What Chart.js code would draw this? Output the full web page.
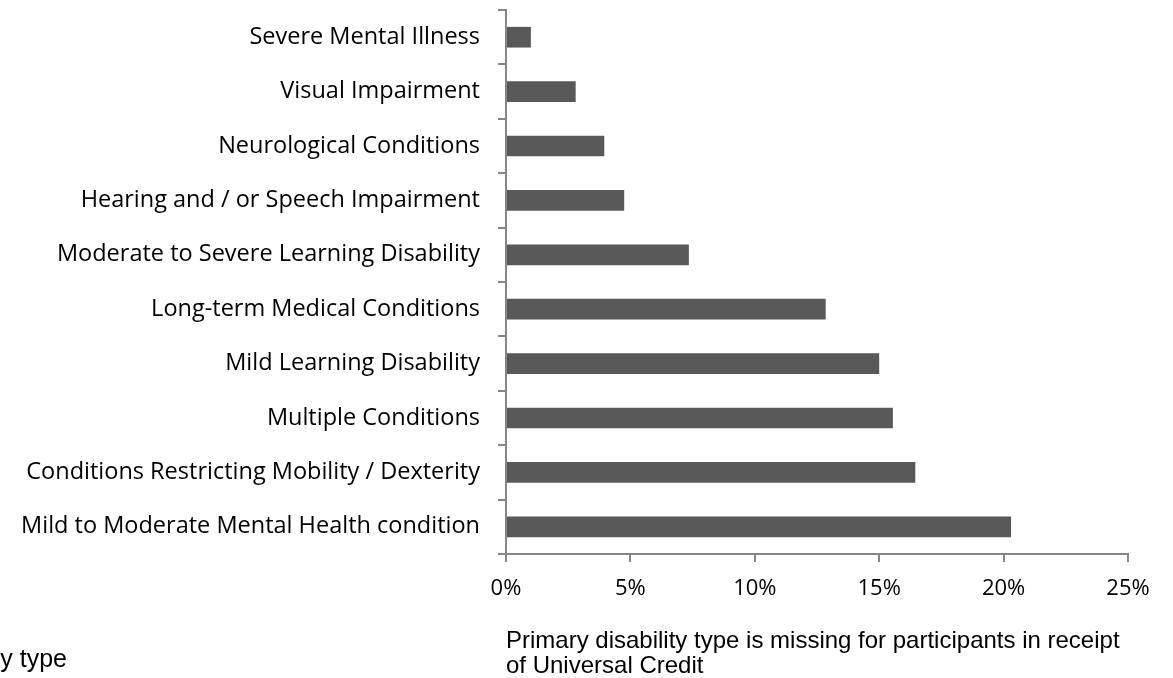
<!DOCTYPE html>
<html>
<head>
<meta charset="utf-8">
<script src="https://cdn.jsdelivr.net/npm/chart.js@4.4.1/dist/chart.umd.min.js"></script>
<style>
    html, body { margin: 0; padding: 0; background: #fff; }
    #wrap { width: 1173px; height: 678px; position: relative; }
</style>
</head>
<body>
<div id="wrap"><canvas id="chart"></canvas></div>
<script>
// ========================================
// Data
// ========================================
const categories = [
    'Severe Mental Illness',
    'Visual Impairment',
    'Neurological Conditions',
    'Hearing and / or Speech Impairment',
    'Moderate to Severe Learning Disability',
    'Long-term Medical Conditions',
    'Mild Learning Disability',
    'Multiple Conditions',
    'Conditions Restricting Mobility / Dexterity',
    'Mild to Moderate Mental Health condition'
];
const shares = [1.0, 2.8, 3.95, 4.75, 7.35, 12.85, 15.0, 15.55, 16.45, 20.3];
const xTicks = [0, 5, 10, 15, 20, 25];
const noteLines = [
    'Primary disability type is missing for participants in receipt',
    'of Universal Credit'
];
const cutTitle = 'Primary disability type';

const axisGrey = '#868686';
const barGrey = '#595959';

// Footnote + clipped title, drawn straight onto the canvas
const notesPlugin = {
    id: 'notes',
    afterDraw(chart) {
        const ctx = chart.ctx;
        const left = chart.chartArea.left;
        ctx.save();
        ctx.fillStyle = '#000';
        ctx.textBaseline = 'alphabetic';
        ctx.font = '24px "Liberation Sans", Arial, sans-serif';
        ctx.textAlign = 'left';
        ctx.fillText(noteLines[0], left, 648);
        ctx.fillText(noteLines[1], left, 673);
        ctx.font = '25px "Liberation Sans", Arial, sans-serif';
        ctx.textAlign = 'right';
        ctx.fillText(cutTitle, 67, 667);
        ctx.restore();
    }
};

new Chart(document.getElementById('chart'), {
    type: 'bar',
    data: {
        labels: categories,
        datasets: [{
            data: shares,
            backgroundColor: barGrey,
            borderWidth: 0,
            barPercentage: 0.38,
            categoryPercentage: 1
        }]
    },
    options: {
        indexAxis: 'y',
        responsive: true,
        maintainAspectRatio: false,
        animation: false,
        layout: { padding: { left: 0, right: 45, top: 10, bottom: 64 } },
        plugins: {
            legend: { display: false },
            tooltip: { enabled: false }
        },
        scales: {
            x: {
                min: 0,
                max: 25,
                afterBuildTicks(axis) {
                    axis.ticks = xTicks.map(v => ({ value: v }));
                },
                afterFit(axis) {
                    axis.height = 60;
                    axis.paddingLeft = 0;
                    axis.paddingRight = 0;
                },
                grid: {
                    drawOnChartArea: false,
                    color: axisGrey,
                    tickLength: 8,
                    lineWidth: 2
                },
                border: { color: axisGrey, width: 2 },
                ticks: {
                    color: '#000',
                    padding: 14,
                    maxRotation: 0,
                    font: { family: 'Open Sans', size: 22 },
                    callback: v => v + '%'
                }
            },
            y: {
                afterFit(axis) {
                    axis.width = 506;
                    axis.paddingTop = 0;
                    axis.paddingBottom = 0;
                },
                grid: {
                    offset: true,
                    drawOnChartArea: false,
                    color: axisGrey,
                    tickLength: 8,
                    lineWidth: 2
                },
                border: { color: axisGrey, width: 2 },
                ticks: {
                    color: '#000',
                    padding: 18,
                    autoSkip: false,
                    font: { family: 'Open Sans', size: 23.5 }
                }
            }
        }
    },
    plugins: [notesPlugin]
});
</script>
</body>
</html>
